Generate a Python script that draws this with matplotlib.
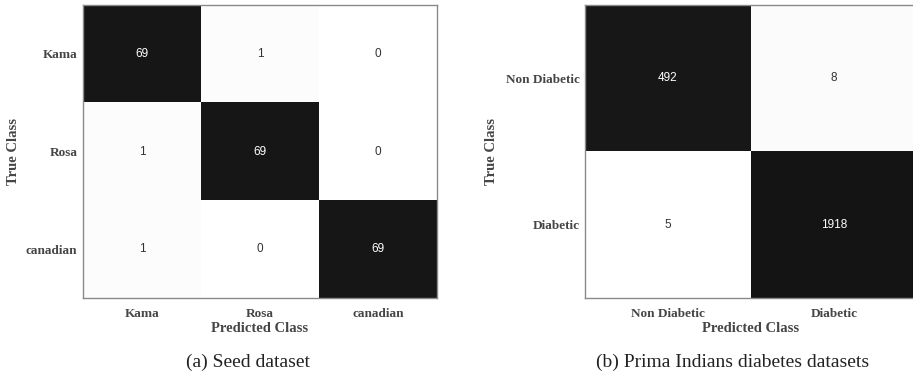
import matplotlib.pyplot as plt
import numpy as np
from matplotlib.colors import LinearSegmentedColormap

# Seed dataset confusion matrix
seed_classes = ["Kama", "Rosa", "canadian"]
seed_counts = [
    [69, 1, 0],
    [1, 69, 0],
    [1, 0, 69],
]

# Pima Indians diabetes confusion matrix
pima_classes = ["Non Diabetic", "Diabetic"]
pima_counts = [
    [492, 8],
    [5, 1918],
]

LABEL_FONT = dict(family="Liberation Serif", weight="bold", color="#454545")
CMAP = LinearSegmentedColormap.from_list("cm_grey", ["#ffffff", "#141414"])


def draw_matrix(ax, counts, classes, ylabel_x):
    counts = np.asarray(counts, dtype=float)
    # shade each cell by its share of the true-class row
    share = counts / counts.sum(axis=1, keepdims=True)
    ax.imshow(share, cmap=CMAP, vmin=0, vmax=1, aspect="auto",
              interpolation="nearest")
    n = len(classes)
    for i in range(n):
        for j in range(n):
            colour = "white" if share[i, j] > 0.5 else "#333333"
            ax.text(j, i, f"{int(counts[i, j])}", ha="center", va="center",
                    fontsize=8.5, family="Liberation Sans", color=colour)
    ax.set_xticks(range(n))
    ax.set_yticks(range(n))
    ax.set_xticklabels(classes, fontsize=9.5, **LABEL_FONT)
    ax.set_yticklabels(classes, fontsize=9.5, **LABEL_FONT)
    ax.tick_params(axis="x", length=0, pad=7)
    ax.tick_params(axis="y", length=0, pad=4)
    ax.set_xlabel("Predicted Class", fontsize=10.5, labelpad=2, **LABEL_FONT)
    ax.set_ylabel("True Class", fontsize=10.5, **LABEL_FONT)
    ax.yaxis.set_label_coords(ylabel_x, 0.5)
    for spine in ax.spines.values():
        spine.set_color("#8a8a8a")
        spine.set_linewidth(1.0)


fig = plt.figure(figsize=(9.13, 3.8), dpi=100)
ax_seed = fig.add_axes([0.0909, 0.2158, 0.3877, 0.771])
ax_pima = fig.add_axes([0.6407, 0.2158, 0.3636, 0.771])

draw_matrix(ax_seed, seed_counts, seed_classes, -0.178)
draw_matrix(ax_pima, pima_counts, pima_classes, -0.262)

fig.text(0.272, 0.047, "(a) Seed dataset", ha="center", va="center",
         fontsize=14, family="Liberation Serif", color="#222222")
fig.text(0.802, 0.047, "(b) Prima Indians diabetes datasets", ha="center",
         va="center", fontsize=14, family="Liberation Serif", color="#222222")

fig.savefig("out.png", dpi=100)
